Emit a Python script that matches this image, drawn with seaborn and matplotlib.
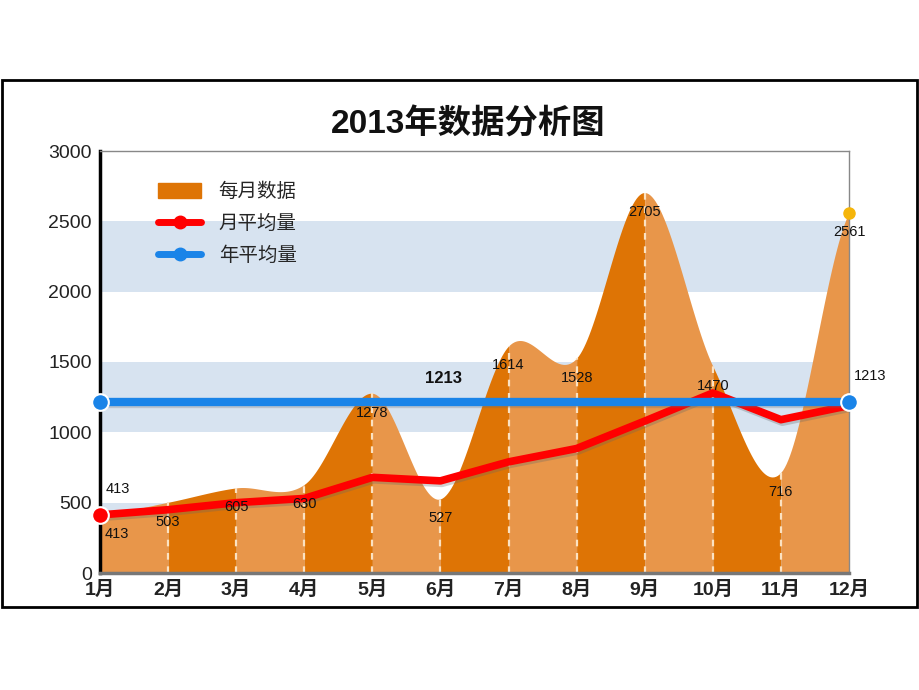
import numpy as np
import pandas as pd
import matplotlib
matplotlib.use('Agg')
from matplotlib import pyplot as plt
from matplotlib.patches import Patch, Rectangle
from matplotlib.lines import Line2D
import matplotlib.patheffects as pe
import seaborn as sns

# datos del gráfico
months = ['1月', '2月', '3月', '4月', '5月', '6月', '7月', '8月', '9月', '10月', '11月', '12月']
monthly = [413, 503, 605, 630, 1278, 527, 1614, 1528, 2705, 1470, 716, 2561]
month_avg = [413, 450, 500, 530, 680, 655, 790, 885, 1080, 1280, 1090, 1190]
year_avg = 1213

sns.set_style('white')
plt.rcParams['font.family'] = ['Liberation Sans', 'Noto Sans CJK SC', 'DejaVu Sans']

df = pd.DataFrame({'pos': np.arange(len(months)), 'month': months,
                   'value': monthly, 'avg': month_avg})
df['year'] = year_avg

light = '#E8964A'
dark = '#DE7405'
band = '#D7E3F0'

fig = plt.figure(figsize=(9.2, 6.9), dpi=100)
ax = fig.add_axes([100 / 920, 1 - 573 / 690, 749 / 920, 422 / 690])

# bandas horizontales
for lo in [0, 1000, 2000]:
    ax.axhspan(lo, lo + 500, color=band, zorder=0, lw=0)


# spline tipo Catmull-Rom para suavizar el área
def catmull(ys, n=40):
    ys = np.asarray(ys, dtype=float)
    segs = []
    for i in range(len(ys) - 1):
        p0 = ys[i - 1] if i > 0 else ys[i]
        p1, p2 = ys[i], ys[i + 1]
        p3 = ys[i + 2] if i + 2 < len(ys) else ys[i + 1]
        t = np.linspace(0, 1, n)
        y = 0.5 * (2 * p1 + (-p0 + p2) * t + (2 * p0 - 5 * p1 + 4 * p2 - p3) * t ** 2
                   + (-p0 + 3 * p1 - 3 * p2 + p3) * t ** 3)
        segs.append((i + t, np.clip(y, 0, None)))
    return segs


for i, (xs, ys) in enumerate(catmull(df['value'])):
    ax.fill_between(xs, 0, ys, color=light if i % 2 == 0 else dark, lw=0, zorder=1)

# líneas verticales punteadas
for i, v in zip(df['pos'][1:-1], df['value'][1:-1]):
    ax.plot([i, i], [0, v], color='#FBE2C2', lw=1.6, ls=(0, (3, 3)), zorder=2)

# línea de promedio mensual
sns.lineplot(data=df, x='pos', y='avg', color='#FF0000', lw=5.5, ax=ax, zorder=4,
             path_effects=[pe.SimpleLineShadow(offset=(1, -1.8), shadow_color='#666666', alpha=0.3),
                           pe.Normal()])
ax.plot(df['pos'][:1], df['avg'][:1], 'o', color='#FF0000', mec='white', mew=1.5, ms=12, zorder=6, clip_on=False)

# línea de promedio anual
sns.lineplot(data=df, x='pos', y='year', color='#1A84E8', lw=6, ax=ax, zorder=5,
             path_effects=[pe.SimpleLineShadow(offset=(1, -1.5), shadow_color='#666666', alpha=0.25),
                           pe.Normal()])
ax.plot(df['pos'].iloc[[0, -1]], df['year'].iloc[[0, -1]], 'o', color='#1A84E8', mec='white', mew=1.5,
        ms=12, zorder=6, clip_on=False)

# punto final amarillo
ax.plot(df['pos'].iloc[-1:], df['value'].iloc[-1:], 'o', color='#F5B50A', ms=8, zorder=6, clip_on=False)

# etiquetas de datos
for i, v in zip(df['pos'], df['value']):
    dx = 12 if i == 0 else 0
    ax.annotate(str(v), (i, v), xytext=(dx, -14), textcoords='offset points',
                ha='center', va='center', fontsize=10.5, color='#111111', zorder=7)
ax.annotate(str(df['avg'][0]), (0, df['avg'][0]), xytext=(13, 19), textcoords='offset points',
            ha='center', va='center', fontsize=10.5, color='#111111', zorder=7)
ax.annotate(str(year_avg), (5, year_avg), xytext=(2, 17), textcoords='offset points',
            ha='center', va='center', fontsize=12, fontweight='bold', color='#111111', zorder=7)
ax.annotate(str(year_avg), (11, year_avg), xytext=(15, 19), textcoords='offset points',
            ha='center', va='center', fontsize=10.5, color='#111111', zorder=7, annotation_clip=False)

ax.set_xlim(0, 11)
ax.set_ylim(0, 3000)
ax.set_xticks(df['pos'])
ax.set_xticklabels(months, fontsize=14, fontweight='bold', color='#222222')
ax.set_yticks(range(0, 3001, 500))
ax.set_yticklabels([str(v) for v in range(0, 3001, 500)], fontsize=14, color='#222222')
ax.tick_params(axis='x', length=0, pad=6)
ax.tick_params(axis='y', length=3, pad=3, color='#444444')
ax.set_xlabel('')
ax.set_ylabel('')

ax.spines['left'].set_color('black')
ax.spines['left'].set_linewidth(2.5)
ax.spines['bottom'].set_color('#777777')
ax.spines['bottom'].set_linewidth(2.5)
for s in ['top', 'right']:
    ax.spines[s].set_color('#888888')
    ax.spines[s].set_linewidth(1)

handles = [Patch(color=dark),
           Line2D([], [], color='#FF0000', lw=5, marker='o', ms=9),
           Line2D([], [], color='#1A84E8', lw=5, marker='o', ms=9)]
ax.legend(handles, ['每月数据', '月平均量', '年平均量'], loc='upper left',
          bbox_to_anchor=(0.078, 0.925), frameon=False, fontsize=14, handlelength=2.2,
          handleheight=0.8, handletextpad=0.9, labelspacing=0.7, borderaxespad=0, borderpad=0,
          numpoints=1)

fig.text(0.509, 1 - 125 / 690, '2013年数据分析图', ha='center', va='center',
         fontsize=24, fontweight='bold', color='#111111')

fig.patches.append(Rectangle((2 / 920, 1 - 607 / 690), 915 / 920, 527 / 690, transform=fig.transFigure,
                             fill=False, ec='black', lw=2))

plt.savefig('out.png', dpi=100)
